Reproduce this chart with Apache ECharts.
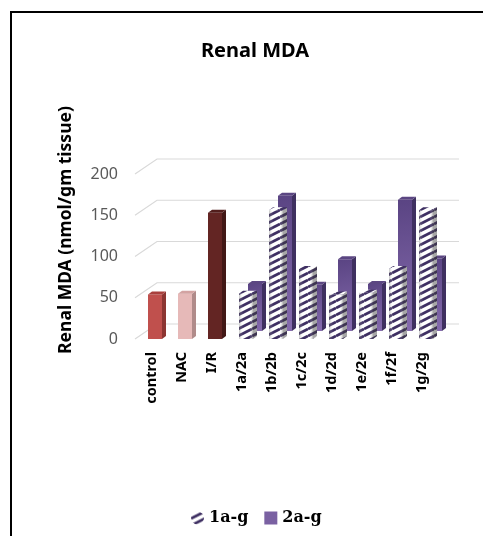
<!DOCTYPE html>
<html>
<head>
  <meta charset="utf-8">
  <title>Renal MDA</title>
  <script src="https://cdn.jsdelivr.net/npm/echarts@6/dist/echarts.min.js"></script>
  <style>
    html, body { margin: 0; padding: 0; background: #fff; }
    #main { width: 483px; height: 536px; }
  </style>
</head>
<body>
  <div id="main"></div>
  <script>
    // categories and values
    var categories = ['control', 'NAC', 'I/R', '1a/2a', '1b/2b', '1c/2c', '1d/2d', '1e/2e', '1f/2f', '1g/2g'];
    var front = [54, 55, 153, 55, 156, 85, 54, 56, 85, 156];       // control, NAC, I/R + 1a-g
    var back = [null, null, null, 57, 164, 56, 87, 57, 159, 88];   // 2a-g
    var yTicks = [0, 50, 100, 150, 200];

    var FONT = 'Noto Sans';

    // hatch pattern for the 1a-g bars
    function makeHatch() {
      var c = document.createElement('canvas');
      c.width = 14; c.height = 7;
      var ctx = c.getContext('2d');
      ctx.fillStyle = '#ffffff';
      ctx.fillRect(0, 0, 14, 7);
      ctx.strokeStyle = '#3e2f62';
      ctx.lineWidth = 2.8;
      [-7, 0, 7].forEach(function (o) {
        ctx.beginPath();
        ctx.moveTo(0, 7 + o);
        ctx.lineTo(14, 0 + o);
        ctx.stroke();
      });
      return c;
    }
    var hatch = { image: makeHatch(), repeat: 'repeat' };

    // colours of the front row, by category
    var frontColors = [
      { face: '#c0504d', side: '#8c3532', top: '#a9403d' },
      { face: '#e6b9b8', side: '#b08b8a', top: '#d3a3a2' },
      { face: '#632523', side: '#421816', top: '#521e1c' }
    ];
    var purple = {
      face: { type: 'linear', x: 0, y: 0, x2: 1, y2: 1, colorStops: [
        { offset: 0, color: '#5a4483' }, { offset: 1, color: '#866cae' }] },
      side: '#3f3060', top: '#5b4682'
    };

    var W = 14, D = 4, H = 3;   // bar width, side depth, top height
    var WALL_DX = 22, WALL_DY = -15;

    function box(api, dx, dy, col, isHatch) {
      var v = api.value(1);
      if (v == null || isNaN(v)) return null;
      var t = api.coord([api.value(0), v]);
      var b = api.coord([api.value(0), 0]);
      var x0 = t[0] + dx - W / 2, x1 = x0 + W;
      var yT = t[1] + dy, yB = b[1] + dy;
      var kids = [
        { type: 'polygon', shape: { points: [[x1, yT], [x1 + D, yT - H], [x1 + D, yB - H], [x1, yB]] },
          style: { fill: isHatch ? hatch : col.side } },
        { type: 'rect', shape: { x: x0, y: yT, width: W, height: yB - yT },
          style: { fill: isHatch ? hatch : col.face } },
        { type: 'polygon', shape: { points: [[x0, yT], [x0 + D, yT - H], [x1 + D, yT - H], [x1, yT]] },
          style: { fill: isHatch ? hatch : col.top } }
      ];
      if (isHatch) {
        kids.push({ type: 'rect', shape: { x: x0, y: yT, width: W, height: yB - yT },
          style: { fill: { type: 'linear', x: 0, y: 0, x2: 1, y2: 0, colorStops: [
            { offset: 0, color: 'rgba(90,90,90,0.35)' }, { offset: 0.3, color: 'rgba(255,255,255,0)' },
            { offset: 0.75, color: 'rgba(255,255,255,0)' }, { offset: 1, color: 'rgba(60,60,60,0.4)' }] } } });
        kids.push({ type: 'polygon', shape: { points: [[x1, yT], [x1 + D, yT - H], [x1 + D, yB - H], [x1, yB]] },
          style: { fill: 'rgba(60,60,60,0.45)' } });
      }
      return { type: 'group', children: kids };
    }

    var myChart = echarts.init(document.getElementById('main'));

    var option = {
      animation: false,
      title: {
        text: 'Renal MDA',
        left: 250, top: 36, textAlign: 'center',
        textStyle: { fontFamily: FONT, fontWeight: 'bold', fontSize: 20, color: '#000' }
      },
      legend: {
        left: 186, top: 505,
        itemWidth: 13, itemHeight: 13, itemGap: 16,
        textStyle: { fontFamily: 'DejaVu Serif', fontWeight: 'bold', fontSize: 16, color: '#000' },
        data: [
          { name: '1a-g', icon: 'circle', itemStyle: { color: hatch } },
          { name: '2a-g', icon: 'rect', itemStyle: { color: '#7a61a2' } }
        ]
      },
      grid: { left: 137, right: 46, top: 174, bottom: 197 },
      xAxis: {
        type: 'category',
        data: categories,
        axisLine: { show: false },
        axisTick: { show: false },
        axisLabel: {
          rotate: 90, margin: 13, interval: 0,
          fontFamily: FONT, fontWeight: 'bold', fontSize: 14.5, color: '#000'
        }
      },
      yAxis: {
        type: 'value', min: 0, max: 200, interval: 50,
        axisLine: { show: false },
        axisTick: { show: false },
        splitLine: { show: false },
        axisLabel: { margin: 19, fontFamily: FONT, fontSize: 16, color: '#595959' }
      },
      graphic: [
        { type: 'rect', shape: { x: 11, y: 12, width: 600, height: 600 },
          style: { fill: null, stroke: '#000', lineWidth: 2 }, silent: true },
        { type: 'text', x: 66, y: 230, rotation: Math.PI / 2,
          style: { text: 'Renal MDA (nmol/gm tissue)', fontFamily: FONT, fontWeight: 'bold',
            fontSize: 17.5, fill: '#000', align: 'center', verticalAlign: 'middle' } }
      ],
      series: [
        {
          name: 'wall', type: 'custom', silent: true, z: 1,
          data: yTicks.map(function (v) { return [0, v]; }),
          renderItem: function (params, api) {
            var y = api.coord([0, api.value(1)])[1];
            var cs = params.coordSys;
            return {
              type: 'polyline',
              shape: { points: [[cs.x - 2, y], [cs.x - 2 + WALL_DX, y + WALL_DY], [cs.x + cs.width + WALL_DX, y + WALL_DY]] },
              style: { stroke: '#d9d9d9', fill: null, lineWidth: 1.2 }
            };
          }
        },
        {
          name: '2a-g', type: 'custom', z: 2,
          itemStyle: { color: '#7a61a2' },
          data: back.map(function (v, i) { return [i, v]; }),
          renderItem: function (params, api) {
            return box(api, 13, -8, purple, false);
          }
        },
        {
          name: '1a-g', type: 'custom', z: 3,
          itemStyle: { color: '#3e2f62' },
          data: front.map(function (v, i) { return [i, v]; }),
          renderItem: function (params, api) {
            var i = api.value(0);
            if (i < 3) return box(api, 3, 0, frontColors[i], false);
            return box(api, 4, 0, null, true);
          }
        }
      ]
    };

    myChart.setOption(option);
  </script>
</body>
</html>
